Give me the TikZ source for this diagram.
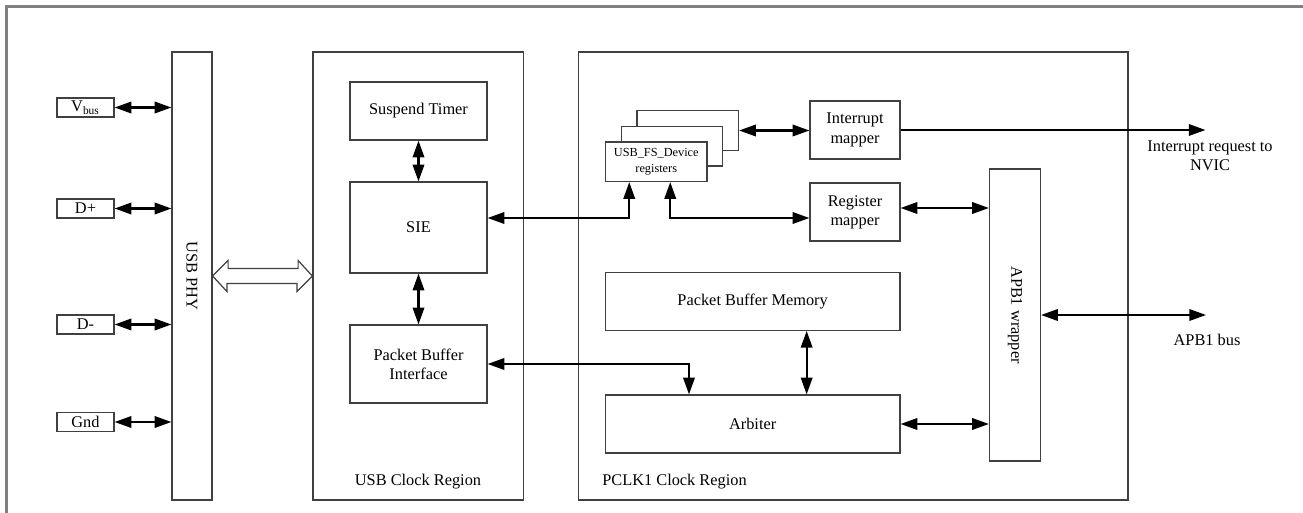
\documentclass[tikz,border=0pt]{standalone}
\usepackage{fontspec}
\setmainfont{Liberation Serif}
\usetikzlibrary{arrows.meta,calc}

\begin{document}
\begin{tikzpicture}[x=0.02cm,y=-0.02cm,
	blk/.style={draw=black!75,line width=0.7pt,fill=white,inner sep=0pt,align=center,font=\fontsize{9.3}{11}\selectfont},
	sz/.style 2 args={minimum width=#1*0.02cm,minimum height=#2*0.02cm},
	lbl/.style={inner sep=0pt,align=center,font=\fontsize{9.3}{11}\selectfont},
	bus/.style={line width=1.2pt,{Triangle[length=9.5pt,width=6.5pt]}-{Triangle[length=9.5pt,width=6.5pt]}},
	sig/.style={line width=1.2pt,-{Triangle[length=9.5pt,width=6.5pt]}}]
		
		\useasboundingbox (0,0) rectangle (1303,513);
		\draw[gray,line width=1.3pt] (1303,6.5) -- (6.5,6.5) -- (6.5,513);
		
		\node[blk,sz={57}{19}] (vbus) at (85.5,107.5) {V\textsubscript{bus}};
		\node[blk,sz={57}{19}] (dp) at (85.5,208.5) {D+};
		\node[blk,sz={57}{19}] (dm) at (85.5,324.5) {D-};
		\node[blk,sz={57}{19}] (gnd) at (85.5,422) {Gnd};
		\node[blk,sz={40}{448}] (phy) at (192,276) {};
		\node[lbl,rotate=-90] (phytxt) at (phy) {USB PHY};
		
		\node[blk,sz={210.5}{448}] (usbclk) at (418.25,276) {};
		\node[blk,sz={137}{58}] (timer) at (418.5,111) {Suspend Timer};
		\node[blk,sz={137}{91}] (sie) at (418.5,227.5) {SIE};
		\node[blk,sz={137}{78}] (pbi) at (418.5,364) {Packet Buffer\\Interface};
		\node[lbl] (usbtxt) at (418,482) {USB Clock Region};
		
		\node[blk,sz={549.5}{448}] (pclk) at (853.25,276) {};
		\node[blk,sz={101.5}{39.5}] (regsback) at (687.75,130.5) {};
		\node[blk,sz={101.5}{39.5}] (regsmid) at (672,146.25) {};
		\node[blk,sz={101.5}{39.5},font=\fontsize{7}{8.7}\selectfont] (regs) at (656.25,161.75) {USB\_FS\_Device\\registers};
		\node[blk,sz={90}{58}] (intmap) at (855,130) {Interrupt\\mapper};
		\node[blk,sz={90}{58}] (regmap) at (855,212) {Register\\mapper};
		\node[blk,sz={294.7}{58}] (pbm) at (752.65,301.3) {Packet Buffer Memory};
		\node[blk,sz={294.7}{58}] (arb) at (752.65,424) {Arbiter};
		\node[blk,sz={51}{292}] (apb) at (1015,315) {};
		\node[lbl,rotate=-90] (apbtxt) at (apb) {APB1 wrapper};
		\node[lbl,anchor=west] (pclktxt) at (602,482) {PCLK1 Clock Region};
		
		\coordinate (nvic) at (1205.5,130);
		\coordinate (apbbus) at (1206,315);
		\coordinate (siept) at ($(sie.east)+(0,-9.5)$);
		\coordinate (rmin) at ($(regmap.west)+(0,6)$);
		\coordinate (rmout) at ($(regmap.east)+(0,-4)$);
		\node[lbl,anchor=north] (nvictxt) at (1210,140) {Interrupt request to\\NVIC};
		\node[lbl] (apbbustxt) at (1207,340) {APB1 bus};
		
		\draw[bus] (vbus.east) -- (vbus.east -| phy.west);
		\draw[bus] (dp.east) -- (dp.east -| phy.west);
		\draw[bus] (dm.east) -- (dm.east -| phy.west);
		\draw[bus] (gnd.east) -- (gnd.east -| phy.west);
		
		\draw[black!75,line width=0.7pt,fill=white] (phy.east) -- ++(15.5,-15.5) -- ++(0,8) -- ++(70,0) -- ++(0,-8) -- (usbclk.west) -- ++(-15.5,15.5) -- ++(0,-8) -- ++(-70,0) -- ++(0,8) -- cycle;
		
		\draw[bus] (timer.south) -- (sie.north);
		\draw[bus] (sie.south) -- (pbi.north);
		\draw[bus] (siept) -| ($(regs.south)+(-27,0)$);
		\draw[bus] ($(regs.south)+(14,0)$) |- (rmin);
		\draw[bus] (regsback.east) -- (regsback.east -| intmap.west);
		\draw[sig] (intmap.east) -- (nvic);
		\draw[bus] (rmout) -- (rmout -| apb.west);
		\draw[bus] (apb.east) -- (apbbus);
		\draw[bus] (pbi.east) -| ($(arb.north)+(-63.65,0)$);
		\draw[bus] ($(pbm.south)+(54,0)$) -- ($(arb.north)+(54,0)$);
		\draw[bus] (arb.east) -- (arb.east -| apb.west);
	\end{tikzpicture}
\end{document}
